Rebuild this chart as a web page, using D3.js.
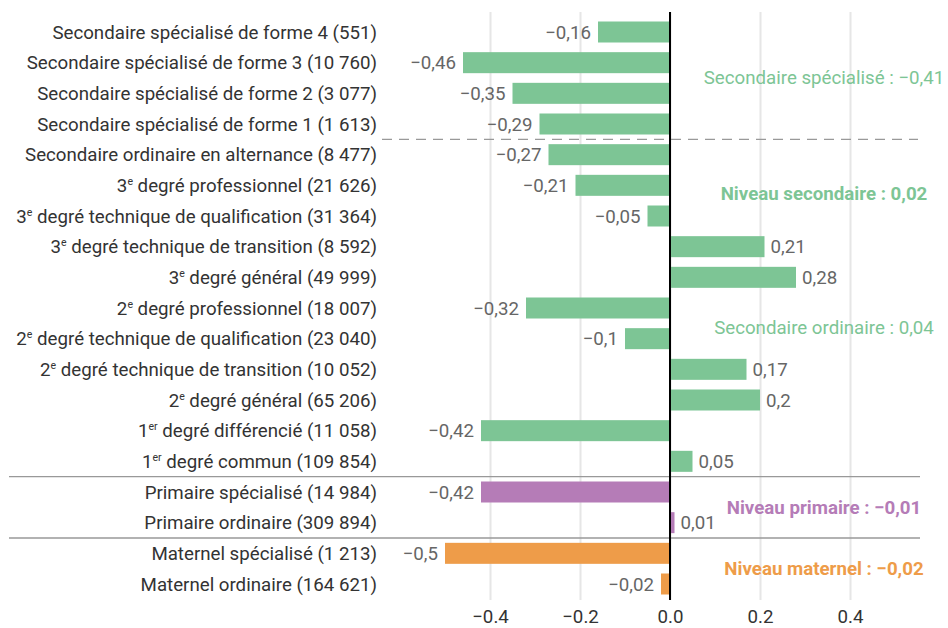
<!DOCTYPE html>
<html>
<head>
<meta charset="utf-8">
<script src="https://cdn.jsdelivr.net/npm/d3@7"></script>
<style>
  body { margin: 0; background: #fff; }
  text { font-family: Roboto, "Noto Sans", sans-serif; }
</style>
</head>
<body>
<div id="chart"></div>
<script>
// categories: "^x^" marks a superscript
var categories = [
  "Secondaire spécialisé de forme 4 (551)",
  "Secondaire spécialisé de forme 3 (10 760)",
  "Secondaire spécialisé de forme 2 (3 077)",
  "Secondaire spécialisé de forme 1 (1 613)",
  "Secondaire ordinaire en alternance (8 477)",
  "3^e^ degré professionnel (21 626)",
  "3^e^ degré technique de qualification (31 364)",
  "3^e^ degré technique de transition (8 592)",
  "3^e^ degré général (49 999)",
  "2^e^ degré professionnel (18 007)",
  "2^e^ degré technique de qualification (23 040)",
  "2^e^ degré technique de transition (10 052)",
  "2^e^ degré général (65 206)",
  "1^er^ degré différencié (11 058)",
  "1^er^ degré commun (109 854)",
  "Primaire spécialisé (14 984)",
  "Primaire ordinaire (309 894)",
  "Maternel spécialisé (1 213)",
  "Maternel ordinaire (164 621)"
];
var values = [-0.16, -0.46, -0.35, -0.29, -0.27, -0.21, -0.05, 0.21, 0.28,
              -0.32, -0.1, 0.17, 0.2, -0.42, 0.05, -0.42, 0.01, -0.5, -0.02];
var levels = ["secondaire", "secondaire", "secondaire", "secondaire", "secondaire",
              "secondaire", "secondaire", "secondaire", "secondaire", "secondaire",
              "secondaire", "secondaire", "secondaire", "secondaire", "secondaire",
              "primaire", "primaire", "maternel", "maternel"];
var xTicks = [-0.4, -0.2, 0, 0.2, 0.4];

// group summaries shown on the right (row = vertical position in row units)
var notes = [
  {text: "Secondaire spécialisé : −0,41", level: "secondaire", row: 1.48, bold: false},
  {text: "Niveau secondaire : 0,02", level: "secondaire", row: 5.25, bold: true},
  {text: "Secondaire ordinaire : 0,04", level: "secondaire", row: 9.62, bold: false},
  {text: "Niveau primaire : −0,01", level: "primaire", row: 15.5, bold: true},
  {text: "Niveau maternel : −0,02", level: "maternel", row: 17.5, bold: true}
];

var W = 948, H = 628;
var fs = "18.7px";

var svg = d3.select("#chart")
  .append("svg")
    .attr("width", W)
    .attr("height", H);

var x = d3.scaleLinear()
  .domain([-0.5, 0.5])
  .range([445, 895]);

var y = d3.scaleLinear()
  .domain([0, 18])
  .range([32, 584]);

var barH = 21;

var color = d3.scaleOrdinal()
  .domain(["secondaire", "primaire", "maternel"])
  .range(["#7dc595", "#b57cb7", "#ee9c49"]);

var fmt = function (v) {
  return (v < 0 ? "−" : "") + String(Math.abs(v)).replace(".", ",");
};

// grid
var gridTop = 12, gridBottom = 600;
svg.append("g")
  .attr("transform", "translate(0," + gridBottom + ")")
  .call(d3.axisBottom(x).tickValues(xTicks).tickSize(-(gridBottom - gridTop))
        .tickFormat(function (d) { return d3.format(".1f")(d).replace("-", "−"); }))
  .call(function (g) {
    g.select(".domain").remove();
    g.selectAll(".tick line").attr("stroke", "#e6e6e6").attr("stroke-width", 2);
    g.selectAll(".tick text")
      .attr("y", 10)
      .attr("fill", "#333")
      .style("font-size", fs)
      .style("font-family", "Roboto, sans-serif");
  });

// separators
svg.append("line")
  .attr("x1", 382).attr("x2", 918)
  .attr("y1", y(3.5)).attr("y2", y(3.5))
  .attr("stroke", "#999").attr("stroke-width", 1.3)
  .attr("stroke-dasharray", "10,7");
[14.5, 16.5].forEach(function (r) {
  svg.append("line")
    .attr("x1", 9).attr("x2", 920)
    .attr("y1", y(r)).attr("y2", y(r))
    .attr("stroke", "#999").attr("stroke-width", 1.3);
});

// bars
svg.append("g")
  .selectAll("rect")
  .data(values)
  .enter()
  .append("rect")
    .attr("x", function (d) { return x(Math.min(0, d)); })
    .attr("y", function (d, i) { return y(i) - barH / 2; })
    .attr("width", function (d) { return Math.abs(x(d) - x(0)); })
    .attr("height", barH)
    .attr("fill", function (d, i) { return color(levels[i]); });

// value labels
svg.append("g")
  .selectAll("text")
  .data(values)
  .enter()
  .append("text")
    .attr("x", function (d) { return d < 0 ? x(d) - 7 : x(d) + 6; })
    .attr("y", function (d, i) { return y(i); })
    .attr("dy", "0.35em")
    .attr("text-anchor", function (d) { return d < 0 ? "end" : "start"; })
    .attr("fill", "#666")
    .style("font-size", fs)
    .text(fmt);

// zero line
svg.append("line")
  .attr("x1", x(0)).attr("x2", x(0))
  .attr("y1", gridTop).attr("y2", gridBottom)
  .attr("stroke", "#000").attr("stroke-width", 2);

// category labels with superscripts
var labels = svg.append("g")
  .selectAll("text")
  .data(categories)
  .enter()
  .append("text")
    .attr("x", 377)
    .attr("y", function (d, i) { return y(i) + 6.5; })
    .attr("text-anchor", "end")
    .attr("fill", "#333")
    .style("font-size", fs);

labels.each(function (d) {
  var el = d3.select(this);
  d.split("^").forEach(function (part, k) {
    if (!part) return;
    var t = el.append("tspan").text(part);
    if (k % 2 === 1) {
      t.style("font-size", "10.5px").attr("dy", -7);
    } else if (k > 0) {
      t.attr("dy", 7);
    }
  });
});

// notes on the right
svg.append("g")
  .selectAll("text")
  .data(notes)
  .enter()
  .append("text")
    .attr("x", 824)
    .attr("y", function (d) { return y(d.row); })
    .attr("dy", "0.35em")
    .attr("text-anchor", "middle")
    .attr("fill", function (d) { return color(d.level); })
    .style("font-size", fs)
    .style("font-weight", function (d) { return d.bold ? "bold" : "normal"; })
    .text(function (d) { return d.text; });
</script>
</body>
</html>
